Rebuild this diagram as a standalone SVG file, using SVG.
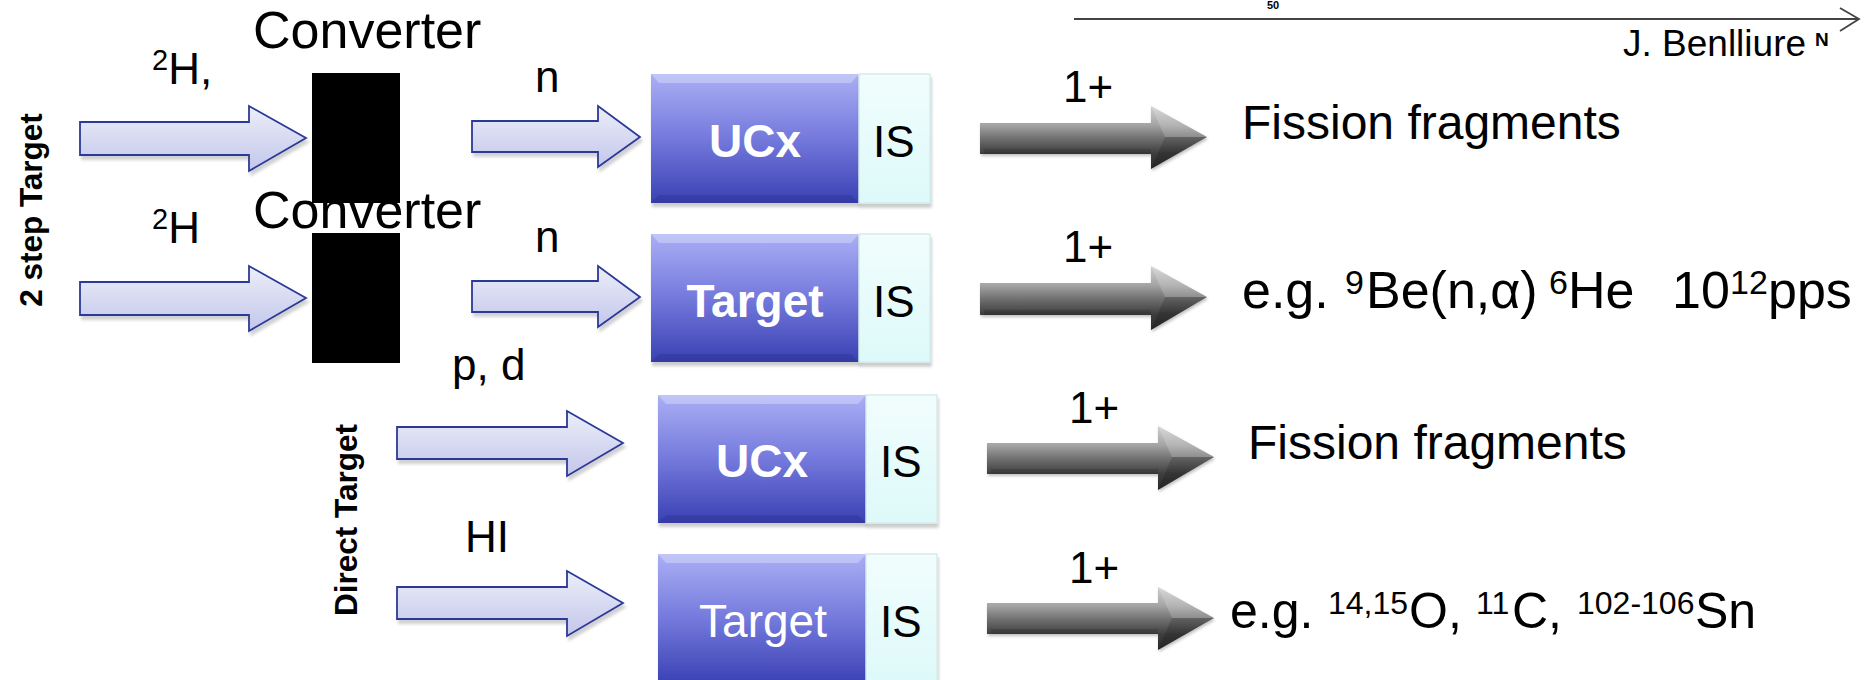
<svg xmlns="http://www.w3.org/2000/svg" width="1865" height="680" viewBox="0 0 1865 680">
<style>
text{font-family:"Liberation Sans",Arial,sans-serif;fill:#000}
.lbl{font-size:44px}
.conv{font-size:52px}
.side{font-size:31.5px;font-weight:bold;text-anchor:middle}
.boxt{font-size:46px;font-weight:bold;fill:#fff;text-anchor:middle}
.res{font-size:48px}
.res2{font-size:52px}
.res4{font-size:50px}
.sup{font-size:32px}
.sup2{font-size:34px}
.barrow{fill:url(#gBlueArrow);stroke:#2c3a96;stroke-width:1.8;filter:url(#shArrow)}
.garrow{fill:url(#gGray);filter:url(#shGray)}
.box{fill:url(#gBox);filter:url(#shBox)}
.is{fill:url(#gIS);stroke:#d4ecec;stroke-width:1.5;filter:url(#shBox)}
.bev{fill:#fff;opacity:0.28}
.bevd{fill:#1e2478;opacity:0.25}
</style>
<defs>
<linearGradient id="gBlueArrow" x1="0" y1="0" x2="0" y2="1">
<stop offset="0" stop-color="#eceef9"/>
<stop offset="1" stop-color="#c3c6ea"/>
</linearGradient>
<linearGradient id="gGray" x1="0" y1="0" x2="0" y2="1">
<stop offset="0" stop-color="#d0d0d0"/>
<stop offset="0.3" stop-color="#a4a4a4"/>
<stop offset="0.5" stop-color="#737373"/>
<stop offset="0.75" stop-color="#3e3e3e"/>
<stop offset="1" stop-color="#2a2a2a"/>
</linearGradient>
<linearGradient id="gBox" x1="0" y1="0" x2="0" y2="1">
<stop offset="0" stop-color="#abaff5"/>
<stop offset="0.5" stop-color="#7479dc"/>
<stop offset="1" stop-color="#3a41b3"/>
</linearGradient>
<linearGradient id="gIS" x1="0" y1="0" x2="0" y2="1">
<stop offset="0" stop-color="#f2fdfd"/>
<stop offset="1" stop-color="#ddf9f9"/>
</linearGradient>
<filter id="shArrow" x="-10%" y="-20%" width="130%" height="150%">
<feDropShadow dx="2" dy="4" stdDeviation="1.5" flood-color="#000" flood-opacity="0.18"/>
</filter>
<filter id="shGray" x="-10%" y="-20%" width="130%" height="150%">
<feDropShadow dx="1" dy="2" stdDeviation="1.5" flood-color="#000" flood-opacity="0.25"/>
</filter>
<filter id="shBox" x="-10%" y="-10%" width="130%" height="130%">
<feDropShadow dx="1" dy="4" stdDeviation="1.5" flood-color="#000" flood-opacity="0.2"/>
</filter>
</defs>
<rect width="1865" height="680" fill="#fff"/>

<!-- scale line top right -->
<g id="scale">
<line x1="1074" y1="19" x2="1859" y2="19" stroke="#444" stroke-width="2"/>
<polyline points="1840,8 1859,19 1840,31" fill="none" stroke="#444" stroke-width="1.8"/>
<text x="1267" y="9" font-size="11" font-weight="bold" fill="#555">50</text>
<text x="1815" y="46" font-size="19" font-weight="bold">N</text>
<text x="1623" y="56" font-size="37">J. Benlliure</text>
</g>

<!-- side labels -->
<g id="label-2step"><text class="side" transform="translate(42,210) rotate(-90)">2 step Target</text></g>
<g id="label-direct"><text class="side" transform="translate(357,520) rotate(-90)">Direct Target</text></g>

<!-- converters -->
<g id="converter1">
<rect x="312" y="73" width="88" height="130" fill="#000"/>
<text class="conv" x="253" y="48">Converter</text>
</g>
<g id="converter2">
<rect x="312" y="233" width="88" height="130" fill="#000"/>
<text class="conv" x="253" y="228">Converter</text>
</g>

<!-- beam labels -->
<g id="beam-labels">
<text class="lbl" x="152" y="84"><tspan font-size="29" y="70">2</tspan><tspan y="84">H,</tspan></text>
<text class="lbl" x="152" y="243"><tspan font-size="29" y="229">2</tspan><tspan y="243">H</tspan></text>
<text class="lbl" x="535" y="92">n</text>
<text class="lbl" x="535" y="252">n</text>
<text class="lbl" x="452" y="380">p, d</text>
<text class="lbl" x="465" y="552">HI</text>
</g>

<!-- connectors (block arrows) -->
<g id="connectors">
<path class="barrow" d="M80,122 H249 V106 L306,138 L249,171 V155 H80 Z"/>
<path class="barrow" d="M80,282 H249 V266 L306,298 L249,331 V315 H80 Z"/>
<path class="barrow" d="M472,121 H598 V106 L640,137 L598,167 V152 H472 Z"/>
<path class="barrow" d="M472,281 H598 V266 L640,297 L598,327 V312 H472 Z"/>
<path class="barrow" d="M397,427 H567 V411 L623,443 L567,476 V459 H397 Z"/>
<path class="barrow" d="M397,587 H567 V571 L623,603 L567,636 V619 H397 Z"/>

<path class="garrow" d="M980,123 H1151 V106 L1207,137 L1151,169 V154 H980 Z"/>
<path class="garrow" d="M980,283 H1151 V266 L1207,297 L1151,330 V315 H980 Z"/>
<path class="garrow" d="M987,443 H1158 V426 L1214,457 L1158,490 V474 H987 Z"/>
<path class="garrow" d="M987,603 H1158 V587 L1214,618 L1158,650 V634 H987 Z"/>
<g fill="#fff" opacity="0.18">
<path d="M1151,106 L1207,137 L1165,137 Z"/>
<path d="M1151,266 L1207,297 L1165,297 Z"/>
<path d="M1158,426 L1214,457 L1172,457 Z"/>
<path d="M1158,587 L1214,618 L1172,618 Z"/>
</g>
<g fill="#000" opacity="0.15">
<path d="M1151,169 L1207,137 L1165,137 Z"/>
<path d="M1151,330 L1207,297 L1165,297 Z"/>
<path d="M1158,490 L1214,457 L1172,457 Z"/>
<path d="M1158,650 L1214,618 L1172,618 Z"/>
</g>
<g fill="#000" opacity="0.12">
<rect x="984" y="149" width="167" height="5"/>
<rect x="984" y="310" width="167" height="5"/>
<rect x="991" y="469" width="167" height="5"/>
<rect x="991" y="629" width="167" height="5"/>
</g>
<text class="lbl" x="1063" y="102">1+</text>
<text class="lbl" x="1063" y="262">1+</text>
<text class="lbl" x="1069" y="423">1+</text>
<text class="lbl" x="1069" y="583">1+</text>
</g>

<!-- target / ion source nodes -->
<g id="node-ucx1">
<rect class="box" x="651" y="74" width="208" height="129"/>
<polygon class="bev" points="651,74 859,74 851,83 659,83"/>
<polygon class="bevd" points="651,203 859,203 851,195 659,195"/>
<text class="boxt" x="755" y="157">UCx</text>
</g>
<g id="node-is1">
<rect class="is" x="859" y="74" width="71" height="129"/>
<text class="lbl" x="873" y="157">IS</text>
</g>

<g id="node-target2">
<rect class="box" x="651" y="234" width="208" height="128"/>
<polygon class="bev" points="651,234 859,234 851,243 659,243"/>
<polygon class="bevd" points="651,362 859,362 851,354 659,354"/>
<text class="boxt" x="755" y="317">Target</text>
</g>
<g id="node-is2">
<rect class="is" x="859" y="234" width="71" height="128"/>
<text class="lbl" x="873" y="317">IS</text>
</g>

<g id="node-ucx3">
<rect class="box" x="658" y="395" width="208" height="128"/>
<polygon class="bev" points="658,395 866,395 858,404 666,404"/>
<polygon class="bevd" points="658,523 866,523 858,515 666,515"/>
<text class="boxt" x="762" y="477">UCx</text>
</g>
<g id="node-is3">
<rect class="is" x="866" y="395" width="71" height="128"/>
<text class="lbl" x="880" y="477">IS</text>
</g>

<g id="node-target4">
<rect class="box" x="658" y="554" width="208" height="130"/>
<polygon class="bev" points="658,554 866,554 858,563 666,563"/>
<text class="boxt" x="763" y="637" style="font-weight:normal">Target</text>
</g>
<g id="node-is4">
<rect class="is" x="866" y="554" width="71" height="130"/>
<text class="lbl" x="880" y="637">IS</text>
</g>

<!-- results -->
<g id="result1"><text class="res" x="1242" y="139">Fission fragments</text></g>
<g id="result2">
<text class="res2" y="308"><tspan x="1242">e.g.</tspan><tspan class="sup2" x="1345" y="294">9</tspan><tspan x="1366" y="308">Be(n,α)</tspan><tspan class="sup2" x="1549" y="294">6</tspan><tspan x="1568" y="308">He</tspan><tspan x="1672">10</tspan><tspan class="sup2" x="1730" y="294">12</tspan><tspan x="1768" y="308">pps</tspan></text>
</g>
<g id="result3"><text class="res" x="1248" y="459">Fission fragments</text></g>
<g id="result4">
<text class="res4" y="628"><tspan x="1230">e.g.</tspan><tspan class="sup" x="1328" y="614">14,15</tspan><tspan x="1409" y="628">O,</tspan><tspan class="sup" x="1476" y="614">11</tspan><tspan x="1512" y="628">C,</tspan><tspan class="sup" x="1577" y="614">102-106</tspan><tspan x="1695" y="628">Sn</tspan></text>
</g>
</svg>
